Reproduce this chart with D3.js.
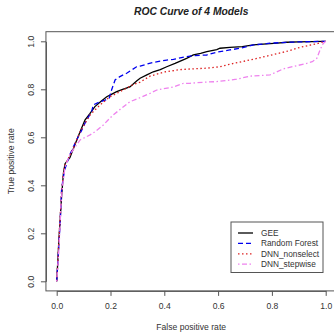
<!DOCTYPE html>
<html>
<head>
<meta charset="utf-8">
<script src="https://cdnjs.cloudflare.com/ajax/libs/d3/7.8.5/d3.min.js"></script>
<style>
	body { margin: 0; background: #fff; }
	text { font-family: "Liberation Sans", Arial, sans-serif; fill: #333; }
</style>
</head>
<body>
<svg id="roc-chart"></svg>
<script>
/* values */
var modelNames = ["GEE", "Random Forest", "DNN_nonselect", "DNN_stepwise"];

var geeFpr = [0, 0.004, 0.008, 0.013, 0.018, 0.025, 0.031, 0.049, 0.068, 0.087, 0.105, 0.124, 0.142, 0.165, 0.186, 0.205, 0.223, 0.245, 0.272, 0.297, 0.31, 0.335, 0.359, 0.385, 0.409, 0.44, 0.483, 0.508, 0.535, 0.558, 0.595, 0.607, 0.644, 0.69, 0.731, 0.78, 0.82, 0.855, 0.9, 0.95, 0.99, 1.0];
var geeTpr = [0, 0.08, 0.17, 0.26, 0.35, 0.45, 0.49, 0.515, 0.57, 0.623, 0.672, 0.70, 0.728, 0.75, 0.769, 0.78, 0.79, 0.80, 0.81, 0.835, 0.846, 0.86, 0.873, 0.882, 0.894, 0.908, 0.929, 0.943, 0.95, 0.957, 0.965, 0.971, 0.975, 0.978, 0.985, 0.989, 0.992, 0.996, 0.998, 0.999, 1.0, 1.0];

var rfFpr = [0, 0.004, 0.008, 0.013, 0.018, 0.024, 0.031, 0.05, 0.07, 0.093, 0.11, 0.13, 0.136, 0.16, 0.18, 0.196, 0.204, 0.217, 0.235, 0.26, 0.297, 0.31, 0.359, 0.409, 0.434, 0.483, 0.508, 0.558, 0.595, 0.607, 0.644, 0.681, 0.731, 0.78, 0.793, 0.855, 0.92, 1.0];
var rfTpr = [0, 0.07, 0.15, 0.25, 0.38, 0.43, 0.47, 0.53, 0.58, 0.63, 0.67, 0.707, 0.735, 0.748, 0.755, 0.765, 0.797, 0.839, 0.853, 0.867, 0.894, 0.897, 0.912, 0.922, 0.925, 0.936, 0.94, 0.943, 0.955, 0.957, 0.964, 0.971, 0.985, 0.99, 0.992, 0.996, 0.998, 1.0];

var nonselFpr = [0, 0.004, 0.008, 0.013, 0.018, 0.024, 0.031, 0.056, 0.087, 0.124, 0.161, 0.198, 0.235, 0.285, 0.31, 0.347, 0.4, 0.458, 0.5, 0.558, 0.607, 0.657, 0.731, 0.78, 0.855, 0.905, 0.967, 1.0];
var nonselTpr = [0, 0.08, 0.17, 0.27, 0.37, 0.44, 0.485, 0.54, 0.623, 0.693, 0.735, 0.769, 0.79, 0.82, 0.83, 0.855, 0.872, 0.882, 0.885, 0.888, 0.894, 0.908, 0.925, 0.938, 0.958, 0.975, 0.99, 1.0];

var stepFpr = [0, 0.004, 0.008, 0.012, 0.016, 0.022, 0.031, 0.05, 0.087, 0.124, 0.142, 0.173, 0.198, 0.21, 0.24, 0.272, 0.31, 0.347, 0.372, 0.434, 0.471, 0.496, 0.55, 0.595, 0.669, 0.719, 0.793, 0.842, 0.88, 0.929, 0.95, 0.967, 0.979, 0.99, 1.0];
var stepTpr = [0, 0.06, 0.13, 0.22, 0.325, 0.40, 0.4775, 0.53, 0.589, 0.61, 0.623, 0.651, 0.68, 0.693, 0.72, 0.748, 0.765, 0.783, 0.797, 0.81, 0.825, 0.825, 0.83, 0.832, 0.842, 0.855, 0.86, 0.885, 0.895, 0.908, 0.915, 0.929, 0.964, 0.99, 1.0];

var tickValues = [0, 0.2, 0.4, 0.6, 0.8, 1.0];

/* settings */
var width = 334,
	height = 336,
	pad = 0.04, // R extends the plot region by 4% each side
	fontSize = 8.6,
	lineWidth = 1.3,
	strokes = ["#000000", "#0000ee", "#dd2222", "#ee82ee"],
	dashes = [null, "5,3", "1.5,2.5", "1.5,2.5,5,2.5"];

var models = [
	{ name: modelNames[0], fpr: geeFpr, tpr: geeTpr },
	{ name: modelNames[1], fpr: rfFpr, tpr: rfTpr },
	{ name: modelNames[2], fpr: nonselFpr, tpr: nonselTpr },
	{ name: modelNames[3], fpr: stepFpr, tpr: stepTpr }
];

var xScale = d3.scaleLinear().domain([0, 1]).range([56.7, 325.7]),
	yScale = d3.scaleLinear().domain([0, 1]).range([281.3, 41.3]);

var line = d3.line()
	.x(function(d) { return xScale(d[0]); })
	.y(function(d) { return yScale(d[1]); });

var svg = d3.select("#roc-chart")
	.attr("width", width)
	.attr("height", height);

/* curves */
svg.append("g").attr("id", "curves")
	.selectAll("path")
	.data(models)
	.enter()
	.append("path")
		.attr("fill", "none")
		.attr("stroke", function(d, i) { return strokes[i]; })
		.attr("stroke-width", lineWidth)
		.attr("stroke-dasharray", function(d, i) { return dashes[i]; })
		.attr("d", function(d) { return line(d3.zip(d.fpr, d.tpr)); });

/* plot box */
var x0 = xScale(-pad), x1 = xScale(1 + pad),
	y0 = yScale(-pad), y1 = yScale(1 + pad);

svg.append("rect")
	.attr("x", x0).attr("y", y1)
	.attr("width", x1 - x0).attr("height", y0 - y1)
	.attr("fill", "none")
	.attr("stroke", "#555")
	.attr("stroke-width", 1);

/* x-axis */
var xAxisG = svg.append("g")
	.attr("transform", "translate(0," + y0 + ")")
	.call(d3.axisBottom(xScale).tickValues(tickValues).tickFormat(d3.format(".1f"))
		.tickSize(5).tickSizeOuter(0).tickPadding(7));

xAxisG.selectAll("text").style("font-size", fontSize + "px").attr("fill", "#333");

/* y-axis, labels turned like R does */
var yAxisG = svg.append("g")
	.attr("transform", "translate(" + x0 + ",0)")
	.call(d3.axisLeft(yScale).tickValues(tickValues).tickFormat(d3.format(".1f"))
		.tickSize(5).tickSizeOuter(0));

yAxisG.selectAll("text")
	.style("font-size", fontSize + "px")
	.attr("fill", "#333")
	.attr("x", 0).attr("y", 0).attr("dy", "0.35em")
	.attr("transform", "translate(-15,0) rotate(-90)")
	.style("text-anchor", "middle");

svg.selectAll(".domain, .tick line").attr("stroke", "#555");

/* titles */
svg.append("text")
	.attr("x", (xScale(0) + xScale(1)) / 2)
	.attr("y", 15)
	.style("text-anchor", "middle")
	.style("font-size", "10.3px")
	.style("font-weight", "bold")
	.style("font-style", "italic")
	.style("fill", "#222")
	.text("ROC Curve of 4 Models");

svg.append("text")
	.attr("x", (xScale(0) + xScale(1)) / 2)
	.attr("y", 330)
	.style("text-anchor", "middle")
	.style("font-size", fontSize + "px")
	.text("False positive rate");

svg.append("text")
	.attr("transform", "translate(14," + (y0 + y1) / 2 + ") rotate(-90)")
	.style("text-anchor", "middle")
	.style("font-size", fontSize + "px")
	.text("True positive rate");

/* legend */
var legend = svg.append("g").attr("transform", "translate(231,222)");

legend.append("rect")
	.attr("width", 92).attr("height", 50.5)
	.attr("fill", "#fff")
	.attr("stroke", "#555");

var items = legend.selectAll(".item")
	.data(models)
	.enter()
	.append("g")
		.attr("class", "item")
		.attr("transform", function(d, i) { return "translate(0," + (11 + i * 10.4) + ")"; });

items.append("line")
	.attr("x1", 7).attr("x2", 22)
	.attr("stroke", function(d, i) { return strokes[i]; })
	.attr("stroke-width", lineWidth)
	.attr("stroke-dasharray", function(d, i) { return dashes[i]; });

items.append("text")
	.attr("x", 30)
	.attr("dy", "0.35em")
	.style("font-size", "8.3px")
	.text(function(d) { return d.name; });
</script>
</body>
</html>
